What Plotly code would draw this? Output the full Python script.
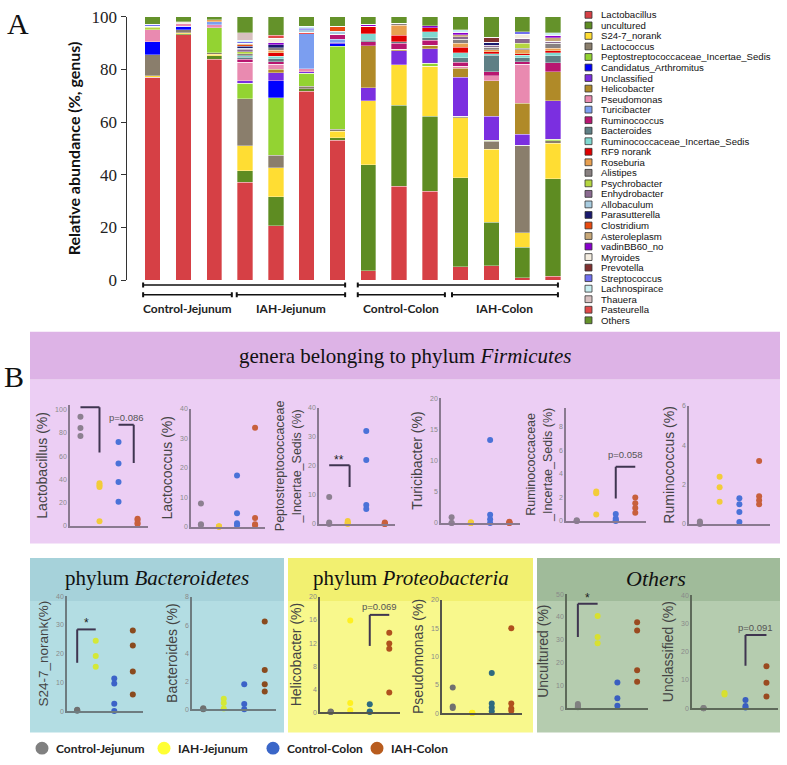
import plotly.graph_objects as go

W, H = 787, 765

# ---------------- Panel A data (14 samples, stacked genera) ----------------
genus_names = ["Lactobacillus", "uncultured", "S24-7_norank", "Lactococcus",
               "Peptostreptococcaceae_Incertae_Sedis", "Candidatus_Arthromitus",
               "Unclassified", "Helicobacter", "Pseudomonas", "Turicibacter",
               "Ruminococcus", "Bacteroides", "Ruminococcaceae_Incertae_Sedis",
               "RF9 norank", "Roseburia", "Alistipes", "Psychrobacter",
               "Enhydrobacter", "Allobaculum", "Parasutterella", "Clostridium",
               "Asteroleplasm", "vadinBB60_no", "Myroides", "Prevotella",
               "Streptococcus", "Lachnospirace", "Thauera", "Pasteurella", "Others"]

lactobacillus = [77, 93.2, 83.8, 37.2, 20.6, 71.7, 53.1, 3.6, 35.7, 33.7, 5.0, 5.5, 0.9, 1.5]
uncultured = [0, 0.4, 1.4, 4.4, 11, 0.9, 1.0, 40.2, 30.7, 28.6, 33.8, 16.4, 11.5, 37.0]
s24_7_norank = [0.6, 0.3, 0.6, 9.4, 11, 0, 2.5, 24.3, 15.3, 19.0, 22.8, 27.8, 5.6, 13.4]
lactococcus = [8, 1.2, 0.6, 17.8, 4.9, 1.0, 0.6, 0, 0, 0, 0.7, 3.1, 33.2, 1.0]
peptostreptococcaceae = [0, 0, 9.4, 6.0, 21.7, 5.0, 31.7, 0, 0, 1.0, 0, 0.4, 0, 0.6]
candidatus_arthromitus = [5, 1.3, 0, 0, 6.6, 0, 0.9, 0, 0, 0, 0, 0, 0, 0]
unclassified = [0, 0, 0, 0.9, 3.0, 0.6, 0.4, 5.0, 5.4, 5.6, 14.7, 9.0, 4.1, 14.7]
helicobacter = [0, 0, 0, 0, 1.2, 0, 0, 16.0, 0.5, 1.3, 3.4, 13.5, 11.9, 11.0]
pseudomonas = [4.4, 1.0, 1.1, 7.0, 1.9, 1.0, 0, 0, 0, 0, 0.9, 1.9, 14.8, 0]
turicibacter = [0, 0, 1.2, 0, 0, 13.4, 1.2, 0, 0, 0, 0, 0, 0, 0]
ruminococcus = [0, 0, 0, 1.2, 1.0, 0, 1.9, 1.5, 2.3, 1.9, 1.4, 1.5, 0.9, 3.3]
bacteroides = [0, 0, 0, 0.8, 1.2, 0, 0, 0.5, 0.6, 0.9, 1.8, 6.3, 1.6, 2.8]
ruminococcaceae = [0, 0, 0, 0.5, 1.0, 0, 0, 2.5, 0, 2.3, 1.8, 0.6, 0.9, 1.0]
rf9_norank = [0, 0, 0, 0, 1.3, 0.6, 0, 2.9, 2.5, 1.5, 2.1, 0.8, 0.6, 0.8]
roseburia = [0, 0, 0.7, 0, 0.9, 0, 0, 0, 3.8, 0, 1.6, 0.7, 1.5, 1.0]
alistipes = [0, 0, 0, 0.8, 1.0, 0, 0, 0, 0.7, 0, 1.5, 0.9, 0.6, 1.9]
psychrobacter = [1.0, 0, 0, 0.8, 0, 0, 0, 0, 0, 0, 0, 0, 1.8, 0]
enhydrobacter = [0.5, 0, 0, 0.8, 0, 0, 0, 0, 0, 0, 1.0, 0.8, 1.9, 0.8]
allobaculum = [0, 0, 0, 0.5, 0, 0.9, 1.2, 0, 0, 0, 0, 0, 0, 0]
parasutterella = [0, 0, 0, 0.7, 1.0, 0, 0, 0, 0, 0, 0, 1.2, 0, 0]
clostridium = [0, 0, 0, 0.6, 0, 0, 1.9, 0, 0, 0, 0, 0, 0, 0]
asteroleplasm = [0, 0, 0, 0.5, 0, 0, 0, 0, 0, 0, 0.7, 0, 0, 1.2]
vadinbb60 = [0, 0, 0, 0, 0.9, 0, 0, 0.6, 0, 0.8, 1.0, 0, 0, 1.0]
myroides = [0, 0.8, 0, 0, 1.6, 0, 0, 0, 0, 0, 0, 0, 1.5, 0]
prevotella = [0, 0, 0, 0, 0, 0, 0, 0, 0, 0, 0, 1.9, 0, 0]
streptococcus = [0.6, 0, 0, 0.6, 0, 0.6, 0, 0, 0, 0, 0, 0, 1.0, 0]
lachnospirace = [0, 0, 0, 0.6, 0, 0.7, 0, 0, 0, 0, 0.8, 0, 0, 1.0]
thauera = [0, 0, 0, 2.9, 0, 0, 0, 0, 0, 0, 0, 0, 0, 0]
pasteurella = [0, 0, 0, 0, 1.1, 0, 0, 0, 0, 0, 0, 0, 0, 0]
others = [2.9, 1.8, 1.2, 6.0, 7.1, 3.6, 3.6, 2.9, 2.5, 3.4, 5.0, 7.7, 5.7, 6.0]

genus_colors = ["#D64045", "#5E8C22", "#FFDD33", "#8A7E6C", "#93D332", "#0000FF",
                "#7B2FE0", "#B08A28", "#E98AB0", "#7B9EF0", "#B81670", "#5F7F85",
                "#80D8D0", "#E00000", "#E8A050", "#888080", "#B5D640", "#8A6A90",
                "#A8CCE0", "#1A1A6E", "#E84A10", "#C8A878", "#8800CC", "#F4EDE0",
                "#803030", "#7070F0", "#C8EEF0", "#D8C0C0", "#E04848", "#64922A"]

group_labels = ["Control-Jejunum", "IAH-Jejunum", "Control-Colon", "IAH-Colon"]

# ---------------- Panel B data (dots per group: CJ, IJ, CC, IC) ----------------
dots_lactobacillus = [[93.8, 84.1, 77.3], [36.6, 34.9, 33.5, 4.0], [72.2, 53.7, 37.8, 20.7], [6.0, 5.0, 2.5, 1.5]]
dots_lactococcus = [[7.9, 0.9, 0.6], [0.2, 0.1, 0.0, 0.0], [17.4, 4.6, 1.2, 0.5], [33.6, 3.0, 0.9, 0.5]]
dots_peptostrep = [[9.3, 0.5, 0.0], [1.0, 0.5, 0.2, 0.0], [32.0, 22.0, 6.5, 5.1], [0.5, 0.2, 0.0, 0.0]]
dots_turicibacter = [[0.9, 0.0, 0.0], [0.1, 0.0, 0.0, 0.0], [13.3, 1.3, 0.6, 0.0], [0.2, 0.1, 0.0, 0.0]]
dots_ruminococcaceae = [[0.05, 0.0, 0.0], [2.5, 2.35, 0.55], [0.6, 0.2, 0.05, 0.0], [2.0, 1.5, 1.1, 0.7]]
dots_ruminococcus = [[0.12, 0.05, 0.0], [2.4, 1.86, 1.12], [1.3, 1.0, 0.6, 0.1], [3.2, 1.4, 1.2, 1.0]]
dots_s24_7 = [[0.5, 0.3, 0.1], [24.5, 19.2, 15.4], [11.3, 9.6, 2.6, 0.0], [28.0, 22.8, 13.8, 5.8]]
dots_bacteroides = [[0.07, 0.02, 0.0], [0.74, 0.44, 0.05], [1.77, 0.37, 0.0], [6.25, 2.8, 1.77, 1.26]]
dots_helicobacter = [[0.1, 0.0, 0.0], [15.9, 1.6, 0.3], [1.35, 0.1, 0.0], [13.8, 11.9, 11.0, 3.4]]
dots_pseudomonas = [[4.5, 1.15, 0.9], [0.05, 0.0, 0.0], [7.1, 1.7, 1.0, 0.3], [15.0, 1.7, 0.8, 0.4]]
dots_uncultured = [[1.8, 1.1, 0.4], [40.4, 31.2, 28.5], [11.3, 4.4, 1.1], [37.7, 34.1, 16.6, 11.6]]
dots_unclassified = [[0.1, 0.0, 0.0], [5.4, 4.8], [2.9, 0.8, 0.2], [14.8, 9.0, 4.1]]


def pxx(v):
    return v / W


def pxy(v):
    return 1 - v / H


def txt(x, y, text, font, xanchor="center", yanchor="middle", xref="paper", yref="paper"):
    return dict(xref=xref, yref=yref, x=x, y=y, text=text, showarrow=False,
                xanchor=xanchor, yanchor=yanchor, font=font)


fig = go.Figure()

# ---------------- Panel A: stacked bars ----------------
genus_values = [lactobacillus, uncultured, s24_7_norank, lactococcus, peptostreptococcaceae,
                candidatus_arthromitus, unclassified, helicobacter, pseudomonas, turicibacter,
                ruminococcus, bacteroides, ruminococcaceae, rf9_norank, roseburia, alistipes,
                psychrobacter, enhydrobacter, allobaculum, parasutterella, clostridium,
                asteroleplasm, vadinbb60, myroides, prevotella, streptococcus, lachnospirace,
                thauera, pasteurella, others]
sample_idx = list(range(len(lactobacillus)))
for name, vals, col in zip(genus_names, genus_values, genus_colors):
    fig.add_trace(go.Bar(x=sample_idx, y=vals, name=name, width=0.5,
                         marker=dict(color=col, line=dict(color="rgba(255,255,255,0.55)", width=0.6)),
                         showlegend=False, xaxis="x", yaxis="y", hoverinfo="name+y"))

layout = dict(
    width=W, height=H, margin=dict(l=0, r=0, t=0, b=0),
    paper_bgcolor="white", plot_bgcolor="rgba(0,0,0,0)",
    barmode="stack", showlegend=False,
    xaxis=dict(domain=[pxx(126.5), pxx(568.4)], range=[-0.85, 13.5], showticklabels=False,
               showline=False, showgrid=False, zeroline=False, ticks="", anchor="y"),
    yaxis=dict(domain=[pxy(278), pxy(8)], range=[0, 100], tickvals=[0, 20, 40, 60, 80, 100],
               ticks="outside", ticklen=5, tickcolor="#333", showline=True, linecolor="#333",
               linewidth=1, showgrid=False, zeroline=False, anchor="x", ticklabeloverflow="allow",
               tickfont=dict(family="Liberation Serif", size=17, color="#222"),
               title=dict(text="<b>Relative abundance (%, genus)</b>", standoff=6,
                          font=dict(family="Lato", size=16, color="#111"))),
)

shapes = []
annotations = []

# legend for panel A
for i, (name, col) in enumerate(zip(genus_names, genus_colors)):
    yc = 6 + i * 10.8
    shapes.append(dict(type="rect", xref="paper", yref="paper", x0=pxx(585), x1=pxx(592),
                       y0=pxy(yc + 3.5), y1=pxy(yc - 3.5), fillcolor=col,
                       line=dict(color="#333", width=0.8)))
    annotations.append(txt(pxx(599), pxy(yc), name,
                           dict(family="Liberation Sans", size=9.6, color="#111"),
                           xanchor="left"))

# brackets under panel A bars (data x units)
def hbracket(xa, xb, ypx, tick=5):
    shapes.append(dict(type="line", xref="x", yref="paper", x0=xa, x1=xb, y0=pxy(ypx), y1=pxy(ypx),
                       line=dict(color="#111", width=1.5)))
    for xx in (xa, xb):
        shapes.append(dict(type="line", xref="x", yref="paper", x0=xx, x1=xx,
                           y0=pxy(ypx - tick / 2), y1=pxy(ypx + tick / 2),
                           line=dict(color="#111", width=2)))

hbracket(-0.31, 6.25, 283)
hbracket(6.66, 13.16, 283)
hbracket(-0.31, 2.57, 293)
hbracket(2.73, 6.25, 293)
hbracket(6.66, 9.49, 293)
hbracket(9.72, 13.16, 293)
for lab, xc in zip(group_labels, [1.13, 4.49, 8.07, 11.44]):
    annotations.append(txt(xc, pxy(307), f"<b>{lab}</b>", dict(family="Lato", size=12, color="#222"),
                           xref="x"))

annotations.append(txt(pxx(18), pxy(15), "A", dict(family="Liberation Serif", size=30, color="#111")))
annotations.append(txt(pxx(14), pxy(377), "B", dict(family="Liberation Serif", size=30, color="#111")))

# ---------------- Panel B background boxes ----------------
def box(x0, x1, top, hdr, bottom, c_hdr, c_body):
    shapes.append(dict(type="rect", xref="paper", yref="paper", layer="below", x0=pxx(x0), x1=pxx(x1),
                       y0=pxy(bottom), y1=pxy(hdr), fillcolor=c_body, line=dict(width=0)))
    shapes.append(dict(type="rect", xref="paper", yref="paper", layer="below", x0=pxx(x0), x1=pxx(x1),
                       y0=pxy(hdr), y1=pxy(top), fillcolor=c_hdr, line=dict(width=0)))

box(30, 780, 331, 380, 548, "#DDB3E6", "#ECCEF4")
box(30, 284, 563, 607, 742, "#A6D2DA", "#B3DDE3")
box(288, 533, 563, 607, 742, "#F2F070", "#F8F88C")
box(537, 780, 563, 607, 742, "#A0BB9A", "#B5CCAF")

hdr_font = dict(family="Liberation Serif", size=21, color="#111")
annotations.append(txt(pxx(405), pxy(356), "genera belonging to phylum <i>Firmicutes</i>", hdr_font))
annotations.append(txt(pxx(157), pxy(584), "phylum <i>Bacteroidetes</i>", hdr_font))
annotations.append(txt(pxx(411), pxy(584), "phylum <i>Proteobacteria</i>", hdr_font))
annotations.append(txt(pxx(656), pxy(584), "<i>Others</i>", dict(family="Liberation Serif", size=22, color="#111")))

# ---------------- Panel B dot plots ----------------
pal_firm = ["#8C8090", "#F2CC3A", "#4A72D8", "#C8603C"]
pal_bact = ["#707070", "#D4E838", "#3C62C8", "#8A4A1E"]
pal_prot = ["#707070", "#FFF020", "#2E6A80", "#B0501E"]
pal_oth = ["#808080", "#D8E030", "#3A5EC0", "#9A4A20"]

specs = [
    # title, data, x0, x1, bottom_px, top_px, ymax, ticks, palette, axis color, title size, brackets
    ("Lactobacillus (%)", dots_lactobacillus, 70, 148, 530, 406, 104, [0, 20, 40, 60, 80, 100], pal_firm, "#8A7A90", 14,
     [("right", 1, 2, 102, 63, "*", 105.5), ("right", 3, 3.8, 87, 54, "p=0.086", 93)]),
    ("Lactococcus (%)", dots_lactococcus, 191, 265, 531, 410, 40, [0, 10, 20, 30, 40], pal_firm, "#8A7A90", 14, []),
    ("Peptostreptococcaceae<br>_Incertae_Sedis (%)", dots_peptostrep, 319, 395, 528, 409, 40, [0, 10, 20, 30, 40],
     pal_firm, "#8A7A90", 12.5, [("right", 1, 2.1, 20.2, 12.7, "**", 22)]),
    ("Turicibacter (%)", dots_turicibacter, 441, 520, 527, 399, 20, [0, 5, 10, 15, 20], pal_firm, "#8A7A90", 14, []),
    ("Ruminococcaceae<br>_Incertae_Sedis (%)", dots_ruminococcaceae, 566, 646, 525, 409, 9.6, [0, 2, 4, 6, 8],
     pal_firm, "#8A7A90", 12.5, [("left", 3, 4, 4.6, 1.9, "p=0.058", 5.6)]),
    ("Ruminococcus (%)", dots_ruminococcus, 689, 770, 528, 407, 6, [0, 2, 4, 6], pal_firm, "#8A7A90", 14, []),
    ("S24-7_norank(%)", dots_s24_7, 67, 143, 720, 602, 40, [0, 10, 20, 30, 40], pal_bact, "#6E7C80", 13.5,
     [("left", 1, 2, 28.4, 16.8, "*", 30.6)]),
    ("Bacteroides (%)", dots_bacteroides, 192, 276, 718, 603, 8, [0, 2, 4, 6, 8], pal_bact, "#6E7C80", 14, []),
    ("Helicobacter (%)", dots_helicobacter, 320, 400, 721, 603, 20, [0, 4, 8, 12, 16, 20], pal_prot, "#55554A", 14,
     [("left", 3, 4, 16.9, 11.5, "p=0.069", 18.4)]),
    ("Pseudomonas (%)", dots_pseudomonas, 442, 522, 722, 606, 20, [0, 5, 10, 15, 20], pal_prot, "#55554A", 14, []),
    ("Uncultured (%)", dots_uncultured, 567, 648, 717, 600, 50, [0, 10, 20, 30, 40, 50], pal_oth, "#5E6A5A", 14,
     [("left", 1, 2, 45.8, 31.2, "*", 48.2)]),
    ("Unclassified (%)", dots_unclassified, 692, 778, 717, 601, 40, [0, 10, 20, 30, 40], pal_oth, "#5E6A5A", 14,
     [("left", 3, 4, 25.9, 15.0, "p=0.091", 28.5)]),
]

for k, (title, groups, x0, x1, ybot, ytop, ymax, ticks, pal, acol, tsize, brackets) in enumerate(specs):
    n = k + 2
    xs, ys, cs = [], [], []
    for gi, vals in enumerate(groups):
        xs += [gi + 1] * len(vals)
        ys += vals
        cs += [pal[gi]] * len(vals)
    fig.add_trace(go.Scatter(x=xs, y=ys, mode="markers", marker=dict(color=cs, size=6),
                             xaxis=f"x{n}", yaxis=f"y{n}", showlegend=False, cliponaxis=False))
    layout[f"xaxis{n}"] = dict(domain=[pxx(x0), pxx(x1)], range=[0.45, 4.55], anchor=f"y{n}",
                               showticklabels=False, ticks="", showgrid=False, zeroline=False,
                               showline=True, linecolor=acol, linewidth=1.6)
    layout[f"yaxis{n}"] = dict(domain=[pxy(ybot), pxy(ytop)], range=[0, ymax], anchor=f"x{n}",
                               tickvals=ticks, ticks="", showgrid=False, zeroline=False,
                               showline=True, linecolor=acol, linewidth=1.6,
                               tickfont=dict(family="Liberation Sans", size=7, color="#8a8a8a"),
                               title=dict(text=title, standoff=4,
                                          font=dict(family="Liberation Sans", size=tsize, color="#444")))
    for kind, xa, xb, yt, yb, lab, ylab in brackets:
        xv = xb if kind == "right" else xa
        shapes.append(dict(type="line", xref=f"x{n}", yref=f"y{n}", x0=xa, x1=xb, y0=yt, y1=yt,
                           line=dict(color="#3F3550", width=2)))
        shapes.append(dict(type="line", xref=f"x{n}", yref=f"y{n}", x0=xv, x1=xv, y0=yt, y1=yb,
                           line=dict(color="#3F3550", width=2)))
        star = lab.startswith("*")
        annotations.append(txt((xa + xb) / 2, ylab, lab,
                               dict(family="Liberation Sans", size=12 if star else 9.5,
                                    color="#222" if star else "#555"),
                               xref=f"x{n}", yref=f"y{n}"))

# ---------------- bottom legend ----------------
leg_cols = ["#808080", "#FFFF33", "#3A66C8", "#B85C1E"]
for lab, col, cx in zip(group_labels, leg_cols, [42, 164, 273, 377]):
    shapes.append(dict(type="circle", xref="paper", yref="paper", x0=pxx(cx - 6.5), x1=pxx(cx + 6.5),
                       y0=pxy(758 + 6.5), y1=pxy(758 - 6.5), fillcolor=col, line=dict(width=0)))
    annotations.append(txt(pxx(cx + 12), pxy(758), f"<b>{lab}</b>",
                           dict(family="Lato", size=12, color="#222"), xanchor="left"))

layout["shapes"] = shapes
layout["annotations"] = annotations
fig.update_layout(**layout)
fig.write_html("out.html", config={"displayModeBar": False},
               post_script="document.body.style.margin='0px';")
